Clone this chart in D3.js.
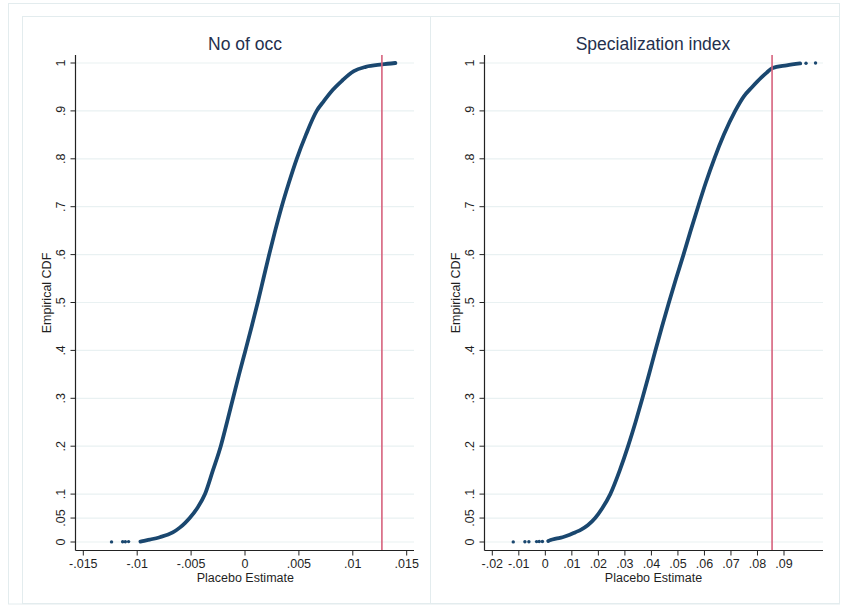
<!DOCTYPE html>
<html>
<head>
<meta charset="utf-8">
<script src="https://cdn.jsdelivr.net/npm/d3@7/dist/d3.min.js"></script>
<style>
  html, body { margin: 0; padding: 0; background: #fff; }
  svg { display: block; }
  text { font-family: "Liberation Sans", Arial, Helvetica, sans-serif; }
</style>
</head>
<body>
<svg id="chart" width="843" height="615"></svg>
<script>
// ---------- DATA ----------
const panelTitles = ["No of occ", "Specialization index"];
const xAxisTitle = "Placebo Estimate";
const yAxisTitle = "Empirical CDF";

const yTicks = [0, 0.05, 0.1, 0.2, 0.3, 0.4, 0.5, 0.6, 0.7, 0.8, 0.9, 1];
const yTickLabels = ["0", ".05", ".1", ".2", ".3", ".4", ".5", ".6", ".7", ".8", ".9", "1"];

const xTicksA = [-0.015, -0.01, -0.005, 0, 0.005, 0.01, 0.015];
const xTickLabelsA = ["-.015", "-.01", "-.005", "0", ".005", ".01", ".015"];
const xTicksB = [-0.02, -0.01, 0, 0.01, 0.02, 0.03, 0.04, 0.05, 0.06, 0.07, 0.08, 0.09];
const xTickLabelsB = ["-.02", "-.01", "0", ".01", ".02", ".03", ".04", ".05", ".06", ".07", ".08", ".09"];

// Panel A: "No of occ" – empirical CDF (dense part): estimate / cumulative share
const cdfA_est = [-0.0097, -0.0095, -0.00884, -0.0079, -0.00670, -0.00605, -0.00555, -0.00513, -0.00445,
  -0.00371, -0.00297, -0.00225, -0.00167, -0.00111, -0.00055, 0.00004, 0.00062, 0.00118, 0.00171,
  0.00224, 0.00280, 0.00340, 0.00407, 0.00480, 0.00565, 0.00665, 0.00730, 0.00815, 0.00905, 0.00960,
  0.01010, 0.01120, 0.01270, 0.01395];
const cdfA_p = [0.001, 0.002, 0.005, 0.01, 0.02, 0.03, 0.04, 0.05, 0.07,
  0.10, 0.15, 0.20, 0.25, 0.30, 0.35, 0.40, 0.45, 0.50, 0.55,
  0.60, 0.65, 0.70, 0.75, 0.80, 0.85, 0.90, 0.92, 0.944, 0.964, 0.975,
  0.983, 0.992, 0.997, 1.0];
// isolated tail points
const tailA_est = [-0.01238, -0.01135, -0.0111, -0.0108];
const tailA_p = [0.0002, 0.0004, 0.0006, 0.0008];
const placeboRefA = 0.0127;

// Panel B: "Specialization index"
const cdfB_est = [0.0011, 0.0020, 0.0040, 0.0065, 0.0092, 0.0112, 0.0135, 0.0160, 0.0188, 0.0214,
  0.0245, 0.0281, 0.0312, 0.0340, 0.0366, 0.0391, 0.0415, 0.0440, 0.0466, 0.0493,
  0.0521, 0.0548, 0.0576, 0.0605, 0.0637, 0.0673, 0.0716, 0.0748, 0.0780, 0.0815,
  0.0835, 0.0855, 0.0910, 0.0961];
const cdfB_p = [0.002, 0.004, 0.007, 0.010, 0.015, 0.020, 0.026, 0.035, 0.05, 0.07,
  0.10, 0.15, 0.20, 0.25, 0.30, 0.35, 0.40, 0.45, 0.50, 0.55,
  0.60, 0.65, 0.70, 0.75, 0.80, 0.85, 0.90, 0.93, 0.95, 0.97,
  0.98, 0.989, 0.995, 0.999];
const tailB_est = [-0.0121, -0.0077, -0.0062, -0.0033, -0.0023, -0.0011, 0.0983, 0.1019];
const tailB_p = [0.0002, 0.0004, 0.0006, 0.0008, 0.0010, 0.0012, 0.9995, 1.0];
const placeboRefB = 0.0855;

// ---------- STYLE ----------
const navy = "#1a476f";
const refColor = "#d6627d";
const gridColor = "#e9f1f2";
const frameColor = "#e3ecee";
const textColor = "#1f1f1f";
const titleColor = "#25304d";

const svg = d3.select("#chart");

// frames (graph combine regions)
svg.append("rect").attr("x", 8.5).attr("y", 3.5).attr("width", 831).attr("height", 600.5)
  .attr("fill", "none").attr("stroke", frameColor).attr("stroke-width", 1);
svg.append("rect").attr("x", 22.5).attr("y", 16.5).attr("width", 408).attr("height", 587)
  .attr("fill", "none").attr("stroke", frameColor).attr("stroke-width", 1);
svg.append("rect").attr("x", 430.5).attr("y", 16.5).attr("width", 409).attr("height", 587)
  .attr("fill", "none").attr("stroke", frameColor).attr("stroke-width", 1);

const y = d3.scaleLinear().domain([0, 1]).range([542, 63]);

const panels = [
  { title: panelTitles[0], xTicks: xTicksA, xLabels: xTickLabelsA,
    x: d3.scaleLinear().domain([-0.015, 0.015]).range([83.3, 406.7]),
    left: 75.5, right: 414, titleX: 245, xTitleX: 245.3,
    est: cdfA_est, p: cdfA_p, tEst: tailA_est, tP: tailA_p, ref: placeboRefA },
  { title: panelTitles[1], xTicks: xTicksB, xLabels: xTickLabelsB,
    x: d3.scaleLinear().domain([-0.02, 0.09]).range([492.3, 784]),
    left: 484.5, right: 823, titleX: 653, xTitleX: 653.5,
    est: cdfB_est, p: cdfB_p, tEst: tailB_est, tP: tailB_p, ref: placeboRefB }
];

const axisTop = 55, axisBottom = 550.5;

panels.forEach(P => {
  const g = svg.append("g");
  // gridlines
  g.selectAll("line.grid").data(yTicks).join("line")
    .attr("x1", P.left).attr("x2", P.right)
    .attr("y1", d => y(d)).attr("y2", d => y(d))
    .attr("stroke", gridColor).attr("stroke-width", 1.2);

  // title
  g.append("text").attr("x", P.titleX).attr("y", 49.5)
    .attr("text-anchor", "middle").attr("font-size", 17.5)
    .attr("fill", titleColor).text(P.title);

  // y axis
  g.append("line").attr("x1", P.left).attr("x2", P.left)
    .attr("y1", axisTop).attr("y2", axisBottom)
    .attr("stroke", "#222").attr("stroke-width", 1.2);
  g.selectAll("line.ytick").data(yTicks).join("line")
    .attr("x1", P.left - 5).attr("x2", P.left)
    .attr("y1", d => y(d)).attr("y2", d => y(d))
    .attr("stroke", "#222").attr("stroke-width", 1);
  g.selectAll("text.ylab").data(yTicks).join("text")
    .attr("transform", d => `translate(${P.left - 11},${y(d)}) rotate(-90)`)
    .attr("text-anchor", "middle").attr("font-size", 12.5).attr("fill", textColor)
    .text((d, i) => yTickLabels[i]);
  g.append("text")
    .attr("transform", `translate(${P.left - 25},293) rotate(-90)`)
    .attr("text-anchor", "middle").attr("font-size", 12.5).attr("fill", textColor)
    .text(yAxisTitle);

  // x axis
  g.append("line").attr("x1", P.left).attr("x2", P.right)
    .attr("y1", axisBottom).attr("y2", axisBottom)
    .attr("stroke", "#222").attr("stroke-width", 1.2);
  g.selectAll("line.xtick").data(P.xTicks).join("line")
    .attr("x1", d => P.x(d)).attr("x2", d => P.x(d))
    .attr("y1", axisBottom).attr("y2", axisBottom + 5)
    .attr("stroke", "#222").attr("stroke-width", 1);
  g.selectAll("text.xlab").data(P.xTicks).join("text")
    .attr("x", d => P.x(d)).attr("y", 567.5)
    .attr("text-anchor", "middle").attr("font-size", 12.5).attr("fill", textColor)
    .text((d, i) => P.xLabels[i]);
  g.append("text").attr("x", P.xTitleX).attr("y", 582)
    .attr("text-anchor", "middle").attr("font-size", 12.5).attr("fill", textColor)
    .text(xAxisTitle);

  // empirical CDF (dense part)
  const pts = P.est.map((e, i) => [e, P.p[i]]);
  const line = d3.line().x(d => P.x(d[0])).y(d => y(d[1])).curve(d3.curveMonotoneX);
  g.append("path").attr("d", line(pts)).attr("fill", "none")
    .attr("stroke", navy).attr("stroke-width", 3.8)
    .attr("stroke-linecap", "round").attr("stroke-linejoin", "round");
  // isolated points
  g.selectAll("circle.tail").data(P.tEst.map((e, i) => [e, P.tP[i]])).join("circle")
    .attr("cx", d => P.x(d[0])).attr("cy", d => y(d[1])).attr("r", 1.7)
    .attr("fill", navy);

  // reference line (actual estimate)
  g.append("line").attr("x1", P.x(P.ref)).attr("x2", P.x(P.ref))
    .attr("y1", axisTop).attr("y2", axisBottom - 0.5)
    .attr("stroke", refColor).attr("stroke-width", 1.6);
});
</script>
</body>
</html>
